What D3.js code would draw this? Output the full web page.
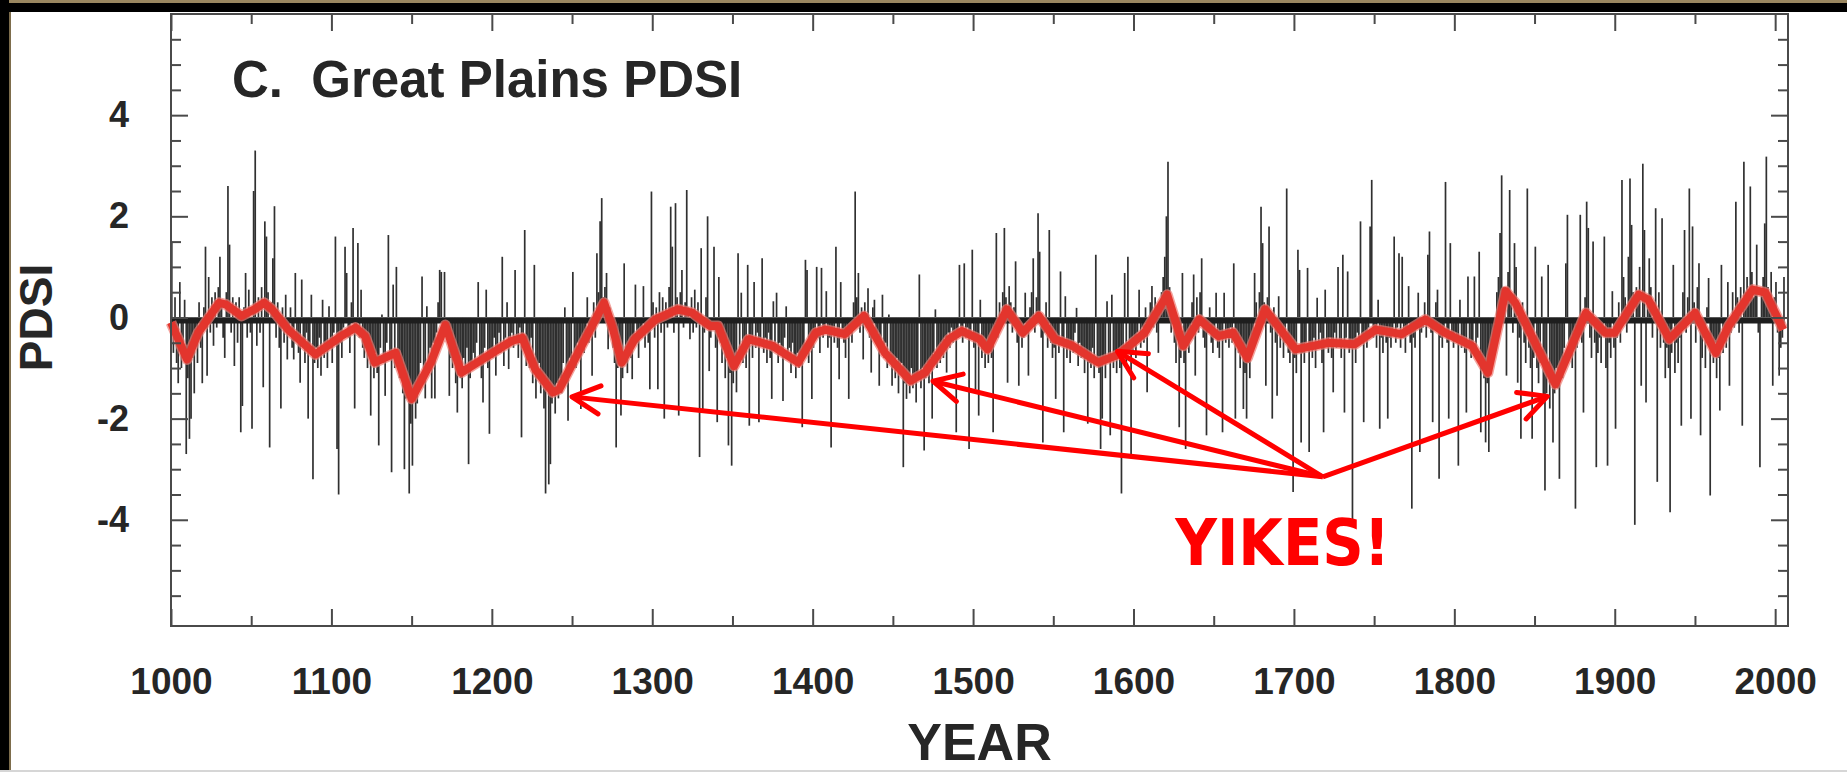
<!DOCTYPE html>
<html>
<head>
<meta charset="utf-8">
<script src="https://cdn.jsdelivr.net/npm/d3@7"></script>
<style>
  body { margin: 0; background: #fff; }
  svg { display: block; }
  .axis line { stroke: #4a4a4a; stroke-width: 2; }
  .axis path { display: none; }
  .axis text { font-family: 'Liberation Sans', Arial, sans-serif; font-weight: bold; fill: #262626; }
</style>
</head>
<body>
<div id="chart"></div>
<script>
// annual Great Plains PDSI, one value per year starting 1000
const firstYear = 1000;
const pdsi = [
  1.5,-0.7,0.4,-0.9,-1.3,0.7,-1.0,-0.6,0.35,-2.7,
  -1.2,-2.4,-2.0,-0.8,-1.5,-0.5,-0.9,0.3,-0.6,-1.3,
  0.2,1.4,-1.15,0.8,-0.3,0.4,-0.56,0.5,-0.2,0.6,
  1.2,0.3,-0.4,-0.8,0.5,2.6,1.44,-0.3,0.4,-0.96,
  0.3,-0.5,0.4,-2.27,-1.75,0.2,0.88,-0.4,0.55,-0.3,
  -2.2,2.5,3.3,-0.56,0.4,-0.3,0.6,-1.38,1.9,1.6,
  0.5,-2.57,0.3,1.17,2.2,-0.4,0.3,-0.6,-1.8,0.2,
  -0.5,0.45,-0.83,-0.3,0.2,-0.6,-0.83,0.88,-0.4,-0.7,
  -1.29,0.75,-0.6,-0.9,-0.3,-2.0,-0.7,0.45,-3.2,-0.9,
  -0.6,-1.0,-0.4,-1.15,0.35,-0.8,-0.5,-1.0,0.22,-0.6,
  -0.9,-0.3,1.6,-2.6,-3.5,-0.5,-0.8,-0.2,1.4,0.88,
  -0.4,-0.7,0.3,1.77,-1.8,-0.3,1.47,-0.4,0.55,-0.6,
  -0.8,-0.3,-1.0,-0.5,-1.94,-0.9,-1.2,-0.7,-1.1,-2.53,
  -0.6,0.06,-0.9,-1.55,-0.5,1.63,-0.8,-3.06,0.65,-1.0,
  1.0,-0.7,-1.2,-0.9,-1.5,-3.0,-1.6,-1.2,-3.48,-2.1,
  -2.93,-1.4,-2.0,-1.7,-1.2,-0.9,0.81,-1.3,-1.6,0.22,
  -1.0,-0.6,-1.6,-0.5,-1.6,-0.3,0.3,0.94,0.9,-0.4,
  0.9,-0.2,-0.5,-1.55,-0.8,-1.0,-0.6,-1.3,-1.88,-0.9,
  -1.2,-1.4,-0.8,-1.1,-0.6,-2.9,-1.2,-0.9,-0.7,-1.0,
  -0.5,0.7,-0.9,-1.2,-1.68,-0.6,0.55,-1.0,-2.3,-0.7,
  -0.8,-0.4,-1.15,-0.6,-0.3,-0.7,1.2,-0.96,-0.4,0.3,
  -1.02,-0.5,-0.3,-0.6,0.94,-0.4,-0.8,-0.2,-2.37,-0.5,
  1.73,-0.96,-0.6,-1.0,-0.4,-1.3,1.04,-1.6,-1.2,-0.9,
  -1.5,-1.1,-1.8,-3.48,-1.4,-3.3,-2.9,-1.7,-1.5,-1.9,
  -1.3,-1.6,-1.2,-1.5,-0.9,0.2,-1.1,-2.04,-0.8,-1.0,
  0.9,-0.7,-1.0,-0.5,-0.8,-1.81,-0.4,-0.7,-0.3,0.4,
  -0.5,-0.2,-1.15,0.3,-0.4,1.27,0.5,1.9,2.36,0.4,
  0.6,0.88,-0.63,0.2,-0.3,-0.6,-0.9,-2.57,-1.0,-0.7,
  -1.94,-1.2,1.07,-0.9,-1.1,-0.6,-0.8,-1.22,-0.4,0.65,
  -0.5,-0.8,-0.3,-0.4,0.62,-0.6,-0.2,-0.5,-1.42,2.49,
  0.3,-0.4,0.2,-1.42,0.5,-0.3,0.4,-2.0,0.3,-0.2,
  0.6,2.19,1.4,-0.3,2.26,0.4,-1.94,0.5,0.94,-0.2,
  0.3,2.52,0.2,-0.43,0.4,-0.3,0.55,-0.2,0.3,-2.76,
  1.37,-1.88,-0.3,0.4,2.0,-1.06,-0.4,-0.2,1.4,-0.6,
  -2.07,0.8,-0.5,-0.9,-0.4,-1.2,-0.8,-2.53,-1.1,-2.93,
  -1.3,-0.9,-1.48,1.27,-0.7,0.49,-0.9,-0.5,-1.0,1.04,
  -2.14,-0.5,-0.8,0.7,-0.6,-0.3,-2.07,-0.5,1.17,-0.7,
  -0.4,-0.9,-0.3,-0.8,-1.61,0.32,-0.6,0.49,-0.9,-0.5,
  -0.7,-1.65,-0.4,0.22,-0.8,-0.6,-1.1,-0.5,-0.9,-1.2,
  -0.7,-1.0,-0.8,-2.17,-0.6,1.14,0.94,-0.9,-0.5,-1.61,
  -0.6,-0.3,1.0,-0.4,-0.7,0.98,-0.4,-0.2,0.52,-0.6,
  -0.4,-2.57,-0.3,-0.5,1.4,-0.6,-1.22,0.7,-0.3,-0.5,
  -0.8,-0.3,-1.61,-0.2,-0.5,0.3,2.49,0.4,0.88,-0.3,
  0.2,-0.83,0.3,-0.2,0.58,-0.4,-1.09,0.2,0.35,-0.5,
  -0.3,-1.35,-0.6,0.45,-0.8,-0.5,-1.0,0.06,-0.7,-1.35,
  -0.9,-1.2,-0.8,-1.5,-1.1,-0.9,-2.96,-1.3,-1.61,-1.2,
  -1.5,-1.0,-1.4,-1.3,-1.68,-1.1,0.85,-1.4,-1.0,-2.63,
  -1.2,-0.9,-1.3,-0.8,-2.0,-0.7,0.16,-1.0,-0.6,-0.9,
  -0.5,-0.8,-0.4,-1.09,-0.3,-0.6,-0.2,-0.5,-0.3,-2.27,
  -0.4,1.04,-0.3,-0.5,1.07,-0.4,-0.2,-2.6,-0.3,1.34,
  -0.6,-1.42,-0.4,-1.94,0.35,-0.8,-0.5,-1.0,-0.7,-0.9,
  -0.5,-0.8,-2.27,-0.3,1.67,-0.4,0.3,-0.2,0.5,1.77,
  0.4,-1.29,0.62,0.3,-0.3,0.2,1.11,-0.5,-1.35,-0.3,
  -0.6,-0.4,0.49,-0.3,-1.15,0.2,0.5,1.17,-0.3,0.4,
  2.06,1.3,-0.4,-2.47,-0.3,0.3,-0.6,1.73,-0.5,-0.8,
  -0.6,-1.61,-0.4,-0.7,0.91,-0.5,-2.27,0.42,-0.8,-0.6,
  -0.9,-0.5,-0.7,-0.3,0.19,-0.96,-0.5,-0.8,-0.6,-1.1,
  -0.7,-2.1,-0.9,-1.0,-0.6,-1.2,1.24,-0.9,-1.1,-2.6,
  -2.0,-0.9,-1.2,0.32,-0.8,-2.33,0.45,-1.0,-0.7,-1.1,
  -0.8,-1.0,-3.48,-0.6,0.88,-0.9,1.2,-0.5,-2.7,-0.7,
  -0.4,-0.8,-0.3,0.55,-0.6,-0.2,-0.5,0.2,-1.48,-0.3,
  0.3,0.62,-0.2,0.4,-0.3,-0.7,0.32,0.5,0.8,1.2,
  2.0,3.08,0.6,-0.3,0.2,-0.5,-0.9,-0.4,-2.17,-0.8,
  0.88,-0.9,-2.6,-0.5,-0.7,-0.2,0.3,0.85,-1.15,0.4,
  -0.3,0.5,1.17,-0.4,-0.6,-2.33,-0.3,0.2,-0.5,-0.7,
  -0.4,0.49,-0.6,-0.8,-0.3,-2.27,0.49,-0.5,-0.3,-0.6,
  -0.2,-0.5,1.07,-2.0,-0.4,-0.7,-1.0,-0.6,-1.81,-1.1,
  -2.0,-0.9,-1.2,-0.6,-0.4,0.88,0.3,-0.2,0.5,2.19,
  1.47,0.3,-1.35,0.4,1.8,-0.3,-2.0,0.2,-0.5,-1.55,
  0.42,-0.6,-0.3,-0.8,-0.5,2.55,-0.7,-0.9,-0.6,-3.45,
  -0.8,-1.1,1.34,0.94,-2.47,-0.7,-0.9,-0.5,0.98,-2.66,
  -0.6,-0.8,-0.4,-1.0,0.39,-0.6,-0.3,-0.9,-2.27,0.55,
  -0.5,-0.7,-0.4,-0.8,-1.48,-0.3,-0.6,1.0,-0.5,-0.8,
  1.24,-1.88,-0.4,0.91,-0.7,-0.5,-4.0,-0.6,-0.9,-0.3,
  -0.5,1.9,-0.4,-2.07,-0.3,-0.6,-0.2,1.8,2.72,-0.4,
  -0.3,-0.6,0.35,-2.2,-0.4,-0.7,-0.3,-0.5,-2.0,-0.4,
  -0.6,-0.3,1.6,-0.5,-0.2,1.27,-0.6,1.2,-0.4,-0.7,
  -0.3,0.62,-0.5,-3.78,-0.4,-0.6,-0.2,0.49,-2.66,-0.3,
  -0.2,0.3,-0.4,1.24,1.7,-0.3,-2.07,-0.2,0.3,0.55,
  -3.19,-0.4,-0.6,-0.2,2.68,-0.5,-2.0,1.47,-0.4,-0.6,
  -0.3,-0.5,-2.93,0.35,-0.6,-0.4,-0.7,-1.88,0.81,-0.5,
  -0.8,-0.6,0.81,-0.7,-0.4,1.3,-2.27,-0.9,-1.2,-2.47,
  -1.3,-2.66,-1.0,-0.6,-0.4,-0.2,0.5,0.8,1.67,2.81,
  0.6,0.3,-1.15,0.9,2.52,0.4,-0.3,1.47,1.0,-1.29,
  -0.4,-2.4,0.3,-0.5,-0.9,2.55,-0.6,-1.0,-2.4,-0.8,
  1.4,-1.0,-1.3,-0.9,0.81,-1.6,-3.42,-1.5,1.04,-1.8,
  -1.2,-2.47,-1.5,-1.0,-1.4,-3.19,-0.9,-1.2,-0.6,1.07,
  2.03,-0.8,-0.5,-1.0,-0.3,-3.78,-0.6,-0.2,2.03,-0.5,
  -1.88,0.4,2.29,1.77,-0.4,-0.8,1.5,-0.5,-2.96,-0.7,
  -0.4,-0.9,-0.3,1.6,-1.0,-2.93,-0.5,-0.8,0.52,-0.6,
  -2.2,-0.4,0.3,-0.5,2.72,0.8,0.4,-0.3,1.2,2.75,
  1.83,0.5,-4.1,0.6,0.3,1.0,-1.35,3.04,1.73,-1.68,
  0.4,1.17,0.6,-0.4,0.3,2.16,-3.25,0.5,-0.6,1.96,
  -0.5,-1.2,-0.6,-1.0,-3.85,-0.7,1.04,-1.1,-0.5,-0.9,
  -0.4,-2.14,0.5,1.73,-0.3,0.4,2.55,-2.0,1.8,0.3,
  -0.5,0.6,1.07,-2.33,-0.8,-0.4,-1.0,0.2,0.78,-3.52,
  -0.6,-0.9,-0.5,-1.2,-0.8,-1.84,1.04,-0.7,-0.4,-0.6,
  0.7,-1.35,-0.3,0.5,-0.2,2.29,0.4,-0.3,0.6,-2.14,
  3.08,0.5,0.8,0.3,2.59,0.9,0.4,0.6,1.44,-0.3,
  -2.96,0.5,0.8,1.86,3.18,0.6,0.3,0.9,-1.35,0.4,
  0.7,-0.3,-1.15,-0.6,-0.4,0.8
];

// smoothed curve (red), vertices
const smoothYears = [1000,1010,1017,1030,1034,1044,1052,1058,1063,1073,
  1090,1106,1115,1121,1127,1140,1150,1162,1171,1181,
  1196,1212,1219,1227,1238,1242,1256,1270,1275,1281,
  1289,1302,1316,1325,1336,1341,1351,1360,1375,1391,
  1402,1408,1420,1432,1445,1461,1470,1485,1493,1504,
  1509,1521,1531,1541,1551,1562,1578,1591,1607,1621,
  1631,1641,1653,1662,1671,1682,1690,1701,1722,1738,
  1751,1767,1782,1794,1811,1821,1832,1838,1841,1863,
  1882,1894,1900,1915,1921,1934,1950,1963,1971,1986,
  1994,2005];
const smoothValues = [-0.1,-0.83,-0.3,0.29,0.26,0.03,0.16,0.29,0.16,-0.24,
  -0.73,-0.37,-0.2,-0.37,-0.89,-0.7,-1.61,-0.89,-0.15,-1.09,
  -0.79,-0.47,-0.4,-1.02,-1.48,-1.42,-0.56,0.29,-0.17,-0.89,
  -0.43,-0.04,0.16,0.09,-0.17,-0.17,-0.96,-0.43,-0.56,-0.89,
  -0.3,-0.24,-0.33,0.03,-0.7,-1.25,-1.09,-0.43,-0.27,-0.43,
  -0.63,0.16,-0.3,0.03,-0.43,-0.56,-0.89,-0.73,-0.3,0.45,
  -0.56,-0.04,-0.37,-0.3,-0.8,0.16,-0.17,-0.63,-0.5,-0.53,
  -0.24,-0.33,-0.04,-0.3,-0.56,-1.09,0.52,0.29,0.1,-1.32,
  0.09,-0.3,-0.3,0.45,0.35,-0.43,0.09,-0.7,-0.17,0.55,
  0.49,-0.24];

// axis ticks
const xMajorTicks = [1000,1100,1200,1300,1400,1500,1600,1700,1800,1900,2000];
const xMinorTicks = [1050,1150,1250,1350,1450,1550,1650,1750,1850,1950];
const yMajorTicks = [-4,-2,0,2,4];
const yMinorTicks = [-5.5,-5,-4.5,-3.5,-3,-2.5,-1.5,-1,-0.5,0.5,1,1.5,2.5,3,3.5,4.5,5,5.5];

// "YIKES!" callout: arrow tips (year, PDSI) and the point they fan out from
const arrowYears = [1250, 1475, 1590, 1858];
const arrowValues = [-1.57, -1.26, -0.67, -1.56];
const calloutYear = 1718, calloutValue = -3.15;

const W = 1847, H = 772;
const plot = { left: 171, right: 1788, top: 14, bottom: 626 };

const svg = d3.select('#chart').append('svg')
    .attr('width', W).attr('height', H);

svg.append('rect').attr('width', W).attr('height', H).attr('fill', '#fff');

// slide frame
svg.append('rect').attr('x', 0).attr('y', 0).attr('width', W).attr('height', 3).attr('fill', '#9a8760');
svg.append('rect').attr('x', 0).attr('y', 3).attr('width', W).attr('height', 9).attr('fill', '#000');
svg.append('rect').attr('x', 0).attr('y', 0).attr('width', 9).attr('height', H).attr('fill', '#000');
svg.append('rect').attr('x', 9).attr('y', 12).attr('width', 2).attr('height', H - 12).attr('fill', '#7d6d4c');
svg.append('rect').attr('x', 0).attr('y', H - 2).attr('width', W).attr('height', 2).attr('fill', '#d6d6d6');

const x = d3.scaleLinear().domain([1000, 2008]).range([plot.left, plot.right]);
const y = d3.scaleLinear().domain([-6.1, 6]).range([plot.bottom, plot.top]);

const data = pdsi.map((v, i) => ({ year: firstYear + i, value: v }));

// annual bars
svg.append('g')
    .selectAll('line')
    .data(data)
    .enter().append('line')
    .attr('x1', d => x(d.year + 0.5)).attr('x2', d => x(d.year + 0.5))
    .attr('y1', y(0)).attr('y2', d => y(d.value))
    .attr('stroke', '#1a1a1a')
    .attr('stroke-width', 1.7)
    .attr('stroke-opacity', 0.9);

// dark band along zero
svg.append('line')
    .attr('x1', x(firstYear)).attr('x2', x(firstYear + pdsi.length))
    .attr('y1', y(0) + 3).attr('y2', y(0) + 3)
    .attr('stroke', '#1e1e1e').attr('stroke-width', 6);

// smoothed series
const smooth = smoothYears.map((yr, i) => ({ year: yr, value: smoothValues[i] }));
const line = d3.line().x(d => x(d.year)).y(d => y(d.value));

svg.append('path')
    .datum(smooth)
    .attr('d', line)
    .attr('fill', 'none')
    .attr('stroke', '#f07a72')
    .attr('stroke-width', 11)
    .attr('stroke-linejoin', 'round')
    .attr('stroke-opacity', 0.7);

svg.append('path')
    .datum(smooth)
    .attr('d', line)
    .attr('fill', 'none')
    .attr('stroke', '#e3352d')
    .attr('stroke-width', 8)
    .attr('stroke-linejoin', 'round');

// frame + ticks
svg.append('rect')
    .attr('x', plot.left).attr('y', plot.top)
    .attr('width', plot.right - plot.left).attr('height', plot.bottom - plot.top)
    .attr('fill', 'none').attr('stroke', '#4a4a4a').attr('stroke-width', 2);

const major = 17, minor = 10;
const plain = d => String(d);

svg.append('g').attr('class', 'axis')
    .attr('transform', `translate(0,${plot.bottom})`)
    .call(d3.axisBottom(x).tickValues(xMajorTicks).tickSize(-major).tickPadding(42).tickFormat(plain))
    .selectAll('text').style('font-size', '37px');
svg.append('g').attr('class', 'axis')
    .attr('transform', `translate(0,${plot.bottom})`)
    .call(d3.axisBottom(x).tickValues(xMinorTicks).tickSize(-minor).tickFormat(''));
svg.append('g').attr('class', 'axis')
    .attr('transform', `translate(0,${plot.top})`)
    .call(d3.axisTop(x).tickValues(xMajorTicks).tickSize(-major).tickFormat(''));
svg.append('g').attr('class', 'axis')
    .attr('transform', `translate(0,${plot.top})`)
    .call(d3.axisTop(x).tickValues(xMinorTicks).tickSize(-minor).tickFormat(''));

svg.append('g').attr('class', 'axis')
    .attr('transform', `translate(${plot.left},0)`)
    .call(d3.axisLeft(y).tickValues(yMajorTicks).tickSize(-major).tickPadding(42).tickFormat(plain))
    .selectAll('text').style('font-size', '36px');
svg.append('g').attr('class', 'axis')
    .attr('transform', `translate(${plot.left},0)`)
    .call(d3.axisLeft(y).tickValues(yMinorTicks).tickSize(-minor).tickFormat(''));
svg.append('g').attr('class', 'axis')
    .attr('transform', `translate(${plot.right},0)`)
    .call(d3.axisRight(y).tickValues(yMajorTicks).tickSize(-major).tickFormat(''));
svg.append('g').attr('class', 'axis')
    .attr('transform', `translate(${plot.right},0)`)
    .call(d3.axisRight(y).tickValues(yMinorTicks).tickSize(-minor).tickFormat(''));

// titles
const labelFont = "'Liberation Sans', Arial, sans-serif";

svg.append('text')
    .attr('x', 232).attr('y', 97)
    .attr('font-family', labelFont).attr('font-weight', 'bold').attr('font-size', 51)
    .attr('fill', '#262626')
    .style('white-space', 'pre')
    .text('C.  Great Plains PDSI');

svg.append('text')
    .attr('x', (plot.left + plot.right) / 2).attr('y', 760)
    .attr('text-anchor', 'middle')
    .attr('font-family', labelFont).attr('font-weight', 'bold').attr('font-size', 52)
    .attr('fill', '#262626')
    .text('YEAR');

svg.append('text')
    .attr('transform', `translate(52,${y(0)}) rotate(-90)`)
    .attr('text-anchor', 'middle')
    .attr('font-family', labelFont).attr('font-weight', 'bold').attr('font-size', 46)
    .attr('fill', '#262626')
    .text('PDSI');

// callout arrows
const hx = x(calloutYear), hy = y(calloutValue);
const arrows = svg.append('g').attr('stroke', '#ff0000').attr('fill', 'none').attr('stroke-width', 5);

arrowYears.forEach((yr, i) => {
    const tx = x(yr), ty = y(arrowValues[i]);
    arrows.append('line').attr('x1', hx).attr('y1', hy).attr('x2', tx).attr('y2', ty);
    const ang = Math.atan2(hy - ty, hx - tx);
    const len = 31, spread = 27 * Math.PI / 180;
    const a1 = [tx + len * Math.cos(ang - spread), ty + len * Math.sin(ang - spread)];
    const a2 = [tx + len * Math.cos(ang + spread), ty + len * Math.sin(ang + spread)];
    arrows.append('path')
        .attr('d', `M${a1[0]},${a1[1]}L${tx},${ty}L${a2[0]},${a2[1]}`)
        .attr('stroke-linecap', 'round')
        .attr('stroke-linejoin', 'round');
});

svg.append('text')
    .attr('x', x(1626)).attr('y', y(-4.9))
    .attr('font-family', "'DejaVu Sans Condensed', 'DejaVu Sans', sans-serif")
    .attr('font-weight', 'bold').attr('font-size', 64)
    .attr('fill', '#ff0000')
    .text('YIKES!');
</script>
</body>
</html>
